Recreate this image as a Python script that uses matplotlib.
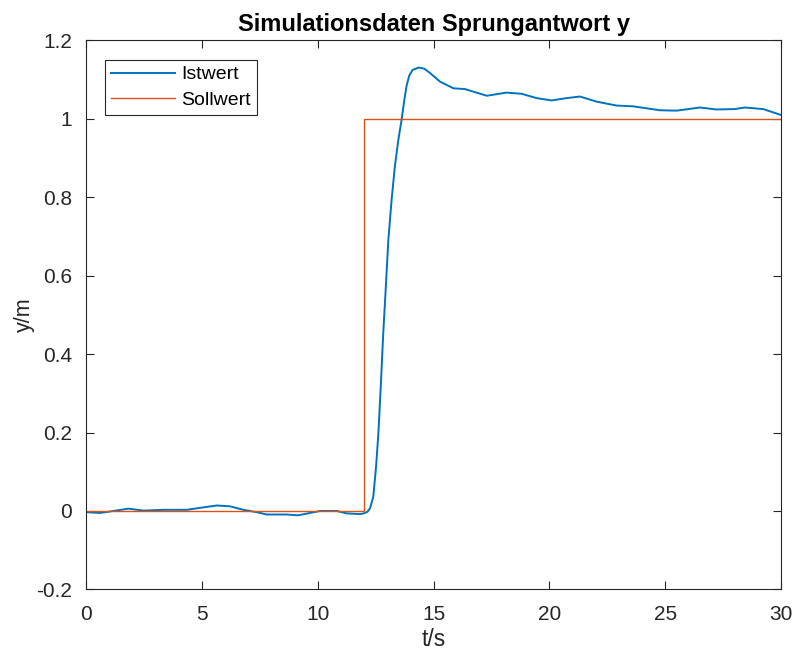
import matplotlib
matplotlib.use("Agg")
import matplotlib.pyplot as plt

plt.rcParams['font.family'] = ['Liberation Sans', 'DejaVu Sans']

# Istwert
t_ist = [0, 0.6, 1.18, 1.83, 2.47, 3.34, 4.35, 4.92, 5.64, 6.21, 6.79, 7.37,
         7.8, 8.66, 9.16, 9.67, 10.1, 10.82, 11.25, 11.83, 12.0, 12.15, 12.26,
         12.40, 12.52, 12.62, 12.73, 12.83, 12.95, 13.05, 13.19, 13.33, 13.48,
         13.62, 13.74, 13.84, 13.95, 14.1, 14.37, 14.6, 14.85, 15.28, 15.86,
         16.36, 17.3, 18.15, 18.8, 19.45, 20.1, 20.75, 21.32, 22.04, 22.9,
         23.62, 24.77, 25.49, 26.5, 27.22, 28.0, 28.44, 29.23, 30.0]
y_ist = [-0.003, -0.005, 0.0, 0.006, 0.001, 0.003, 0.003, 0.008, 0.014, 0.012,
         0.003, -0.003, -0.009, -0.009, -0.011, -0.005, 0.0, 0.0, -0.006,
         -0.008, -0.006, -0.002, 0.007, 0.036, 0.113, 0.198, 0.326, 0.453,
         0.581, 0.691, 0.793, 0.878, 0.946, 0.997, 1.048, 1.085, 1.11, 1.125,
         1.131, 1.128, 1.117, 1.095, 1.078, 1.076, 1.059, 1.067, 1.064, 1.053,
         1.047, 1.053, 1.057, 1.044, 1.034, 1.032, 1.022, 1.021, 1.029, 1.024,
         1.025, 1.029, 1.025, 1.01]

# Sollwert (step at t=12)
t_soll = [0, 12, 12, 30]
y_soll = [0, 0, 1, 1]

fig = plt.figure(figsize=(7.95, 6.59), dpi=100)
ax = fig.add_axes([0.1082, 0.1056, 0.8742, 0.833])

ax.plot(t_ist, y_ist, color='#0072BD', lw=1.4, label='Istwert')
ax.plot(t_soll, y_soll, color='#D95319', lw=1.0, label='Sollwert')

ax.set_xlim(0, 30)
ax.set_ylim(-0.2, 1.2)
ax.set_xticks([0, 5, 10, 15, 20, 25, 30])
ax.set_yticks([-0.2, 0, 0.2, 0.4, 0.6, 0.8, 1, 1.2])
ax.set_yticklabels(['-0.2', '0', '0.2', '0.4', '0.6', '0.8', '1', '1.2'])

ax.tick_params(direction='in', top=True, right=True, labelsize=15,
               colors='#262626', length=6, width=0.8)
ax.tick_params(axis='x', pad=11)
ax.tick_params(axis='y', pad=10)
for s in ax.spines.values():
    s.set_color('#262626')
    s.set_linewidth(0.8)

ax.set_xlabel('t/s', fontsize=16.5, color='#262626', labelpad=3)
ax.set_ylabel('y/m', fontsize=15.5, color='#262626', labelpad=1)
ax.set_title('Simulationsdaten Sprungantwort y', fontsize=17, fontweight='bold', pad=7)

leg = ax.legend(loc='upper left', fontsize=14, fancybox=False, framealpha=1,
                edgecolor='#262626', borderaxespad=1.0, handlelength=3.3,
                handletextpad=0.3, borderpad=0.3, labelspacing=0.4)
leg.get_frame().set_linewidth(0.8)

fig.savefig('out.png', dpi=100)
